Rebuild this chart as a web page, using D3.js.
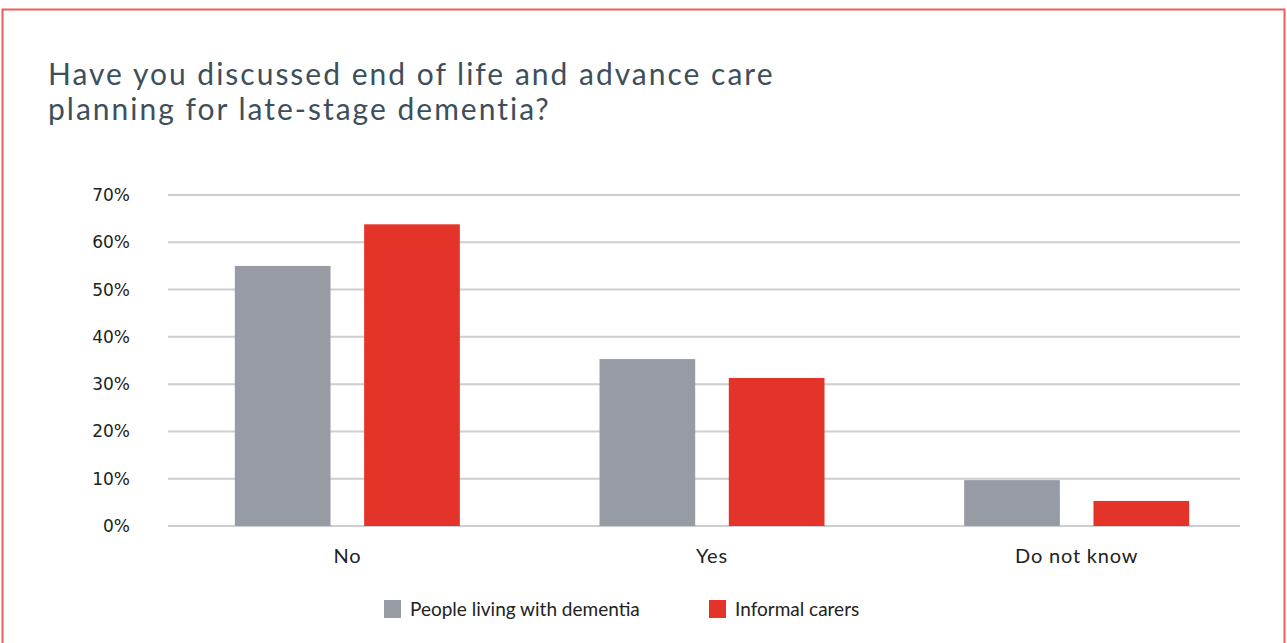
<!DOCTYPE html>
<html>
<head>
<meta charset="utf-8">
<script src="https://cdn.jsdelivr.net/npm/d3@7"></script>
<style>
  body { margin: 0; background: #fff; }
  svg { display: block; }
</style>
</head>
<body>
<svg id="chart" width="1287" height="643"></svg>
<script>
var categories = ["No", "Yes", "Do not know"],
	seriesNames = ["People living with dementia", "Informal carers"],
	dementiaValues = [55, 35.3, 9.7],
	carerValues = [63.8, 31.3, 5.3],
	yTicks = [0, 10, 20, 30, 40, 50, 60, 70],
	titleLines = ["Have you discussed end of life and advance care", "planning for late-stage dementia?"];

var svg = d3.select("#chart"),
	colors = ["#979ba3", "#e43329"],
	plotLeft = 168, plotRight = 1240, plotTop = 195, plotBottom = 526;

// frame (open at the bottom)
svg.append("path")
	.attr("d", "M2.5,643 L2.5,9.5 L1284.5,9.5 L1284.5,643")
	.attr("fill", "none")
	.attr("stroke", "#ec5f55")
	.attr("stroke-width", 2);

// title
svg.append("g").selectAll("text")
	.data(titleLines)
	.join("text")
	.attr("x", 48)
	.attr("y", function(d, i) { return 85 + i * 35; })
	.attr("font-family", "Lato, 'Open Sans', sans-serif")
	.attr("font-size", 30)
	.attr("letter-spacing", 2)
	.attr("fill", "#3e4f5c")
	.text(function(d) { return d; });

var x = d3.scaleBand().domain(categories).range([165, 1259]),
	x1 = d3.scaleBand().domain([0, 1]).range([0, 225]).paddingInner(0.26),
	y = d3.scaleLinear().domain([0, 70]).range([plotBottom, plotTop]);

// gridlines
svg.append("g").selectAll("line")
	.data(yTicks)
	.join("line")
	.attr("x1", plotLeft).attr("x2", plotRight)
	.attr("y1", function(d) { return y(d); })
	.attr("y2", function(d) { return y(d); })
	.attr("stroke", "#cdcdd2")
	.attr("stroke-width", 2);

// y axis labels
svg.append("g").selectAll("text")
	.data(yTicks)
	.join("text")
	.attr("x", 130)
	.attr("y", function(d) { return y(d) + 6; })
	.attr("text-anchor", "end")
	.attr("font-family", "'DejaVu Sans', sans-serif")
	.attr("font-size", 17)
	.attr("fill", "#222")
	.text(function(d) { return d + "%"; });

// bars
var groupOffset = (x.bandwidth() - 225) / 2;
var rows = categories.map(function(c, i) {
	return { cat: c, vals: [dementiaValues[i], carerValues[i]] };
});

var groups = svg.append("g").selectAll("g")
	.data(rows)
	.join("g")
	.attr("transform", function(d) { return "translate(" + (x(d.cat) + groupOffset) + ",0)"; });

groups.selectAll("rect")
	.data(function(d) { return d.vals.map(function(v, i) { return { i: i, v: v }; }); })
	.join("rect")
	.attr("x", function(d) { return x1(d.i); })
	.attr("width", x1.bandwidth())
	.attr("y", function(d) { return y(d.v); })
	.attr("height", function(d) { return y(0) - y(d.v); })
	.attr("fill", function(d) { return colors[d.i]; });

// category labels
svg.append("g").selectAll("text")
	.data(categories)
	.join("text")
	.attr("x", function(d) { return x(d) + x.bandwidth() / 2; })
	.attr("y", 563)
	.attr("text-anchor", "middle")
	.attr("font-family", "Lato, 'Open Sans', sans-serif")
	.attr("font-size", 20)
	.attr("letter-spacing", 0.8)
	.attr("fill", "#222")
	.text(function(d) { return d; });

// legend
var legendX = [384, 709];
var legend = svg.append("g").selectAll("g")
	.data(seriesNames)
	.join("g")
	.attr("transform", function(d, i) { return "translate(" + legendX[i] + ",600)"; });

legend.append("rect")
	.attr("width", 17).attr("height", 18)
	.attr("fill", function(d, i) { return colors[i]; });

legend.append("text")
	.attr("x", 26)
	.attr("y", 16)
	.attr("font-family", "Lato, 'Open Sans', sans-serif")
	.attr("font-size", 19)
	.attr("fill", "#222")
	.text(function(d) { return d; });
</script>
</body>
</html>
